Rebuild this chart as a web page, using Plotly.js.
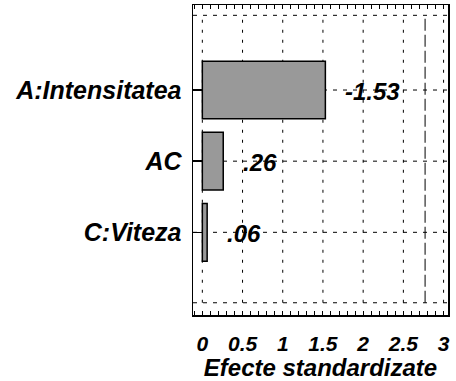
<!DOCTYPE html>
<html>
<head>
<meta charset="utf-8">
<script src="https://cdn.plot.ly/plotly-3.0.1.min.js"></script>
<style>html,body{margin:0;padding:0;background:#fff;}#chart{width:456px;height:381px;}</style>
</head>
<body>
<div id="chart"></div>
<script>
var categories = ['A:Intensitatea', 'AC', 'C:Viteza'];
var effects = [1.53, 0.26, 0.06];
var valueLabels = ['-1.53', '.26', '.06'];
var xTickVals = [0, 0.5, 1, 1.5, 2, 2.5, 3];
var xTickText = ['0', '0.5', '1', '1.5', '2', '2.5', '3'];
var criticalValue = 2.77;
var yBottomLine = -0.99, yTopLine = 3.05;

var catPos = categories.map(function (c, i) { return categories.length - 1 - i; });
function f(size) {
  return {family: 'Liberation Sans, Arial, sans-serif', size: size, color: '#000', weight: 'bold', style: 'italic'};
}

var trace = {
  type: 'bar', orientation: 'h',
  x: effects, y: catPos, width: 0.81,
  marker: {color: '#999999', line: {color: '#000', width: 1.5}},
  hoverinfo: 'none'
};

var shapes = [];
xTickVals.forEach(function (v) {
  shapes.push({type: 'line', xref: 'x', yref: 'y', x0: v, x1: v, y0: yBottomLine, y1: yTopLine,
    line: {color: '#000', width: 1, dash: '3px,7px'}, layer: 'below'});
});
catPos.concat([yBottomLine, yTopLine]).forEach(function (p) {
  shapes.push({type: 'line', xref: 'paper', yref: 'y', x0: 0, x1: 1, y0: p, y1: p,
    line: {color: '#000', width: 1, dash: '4px,6px'}, layer: 'below'});
});
shapes.push({type: 'line', xref: 'x', yref: 'y', x0: criticalValue, x1: criticalValue, y0: yBottomLine, y1: yTopLine,
  line: {color: '#000', width: 1, dash: '12px,4px'}, layer: 'below'});

var annotations = effects.map(function (v, i) {
  return {x: v, y: catPos[i], xref: 'x', yref: 'y', text: valueLabels[i], showarrow: false,
    xanchor: 'left', yanchor: 'middle', xshift: 18, yshift: -1, font: f(24), bgcolor: 'rgba(0,0,0,0)'};
});

var layout = {
  width: 456, height: 381,
  margin: {l: 193, r: 8, t: 5, b: 66},
  paper_bgcolor: '#fff', plot_bgcolor: '#fff',
  showlegend: false,
  bargap: 0,
  xaxis: {
    range: [-0.116, 3.055], tickvals: xTickVals, ticktext: xTickText,
    showgrid: false, zeroline: false, showline: true, linecolor: '#000', linewidth: 1.5,
    mirror: 'ticks', ticks: 'inside', ticklen: 4, tickcolor: '#000', tickwidth: 1,
    minor: {dtick: 0.1, tick0: 0, ticks: 'inside', ticklen: 4, tickcolor: '#000', showgrid: false},
    tickfont: f(21), ticklabelstandoff: 9,
    title: {text: 'Efecte standardizate', font: f(24), standoff: 2}
  },
  yaxis: {
    range: [-1.162, 3.195], tickvals: catPos, ticktext: categories,
    showgrid: false, zeroline: false, showline: true, linecolor: '#000', linewidth: 1.5,
    mirror: true, ticks: 'inside', ticklen: 9, tickcolor: '#000', tickwidth: 1.5,
    tickfont: f(25), ticklabelstandoff: 5
  },
  shapes: shapes,
  annotations: annotations
};

Plotly.newPlot('chart', [trace], layout, {displayModeBar: false, staticPlot: true});
</script>
</body>
</html>
